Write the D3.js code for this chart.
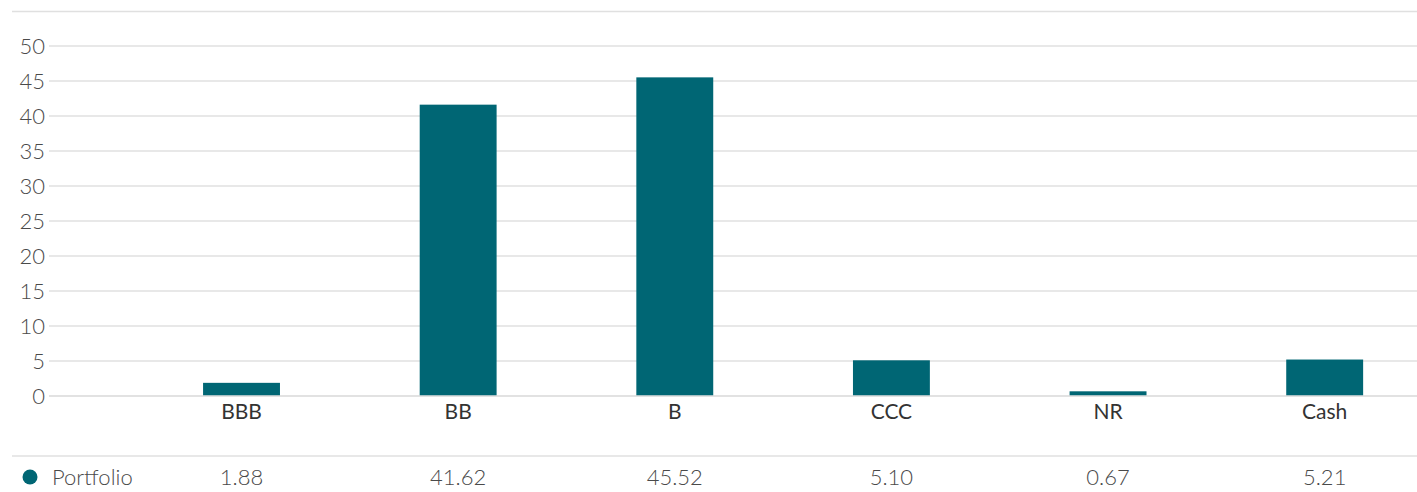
<!DOCTYPE html>
<html>
<head>
<meta charset="utf-8">
<script src="https://cdn.jsdelivr.net/npm/d3@7"></script>
<style>
	body { margin: 0; background: #fff; }
	svg text { font-family: "Source Sans Pro", Lato, "Open Sans", sans-serif; }
	.grid line { stroke: #e0e0e0; stroke-width: 1.5; }
	.ytick { font-size: 22px; font-weight: 300; fill: #4a4a4a; }
	.xcat { font-size: 21px; fill: #333; }
	.val { font-size: 22px; font-weight: 300; fill: #4a4a4a; }
	.bar { fill: #006674; }
</style>
</head>
<body>
<svg width="1417" height="492" id="chart"></svg>
<script>
	// data
	var categories = ["BBB", "BB", "B", "CCC", "NR", "Cash"];
	var portfolio = [1.88, 41.62, 45.52, 5.10, 0.67, 5.21];
	var valueLabels = ["1.88", "41.62", "45.52", "5.10", "0.67", "5.21"];
	var yTicks = [0, 5, 10, 15, 20, 25, 30, 35, 40, 45, 50];
	var seriesName = "Portfolio";

	var svg = d3.select("svg#chart"),
		width = +svg.attr("width");

	var x = d3.scaleBand()
		.domain(categories)
		.range([133.2, 1433])
		.paddingInner(0.645)
		.paddingOuter(0.3225);

	var y = d3.scaleLinear()
		.domain([0, 50])
		.range([396, 46]);

	// top rule
	svg.append("line")
		.attr("x1", 12).attr("x2", width)
		.attr("y1", 11.5).attr("y2", 11.5)
		.attr("stroke", "#e0e0e0").attr("stroke-width", 1.5);

	// gridlines
	svg.append("g")
		.attr("class", "grid")
		.selectAll("line")
		.data(yTicks)
		.enter().append("line")
		.attr("x1", 49).attr("x2", width)
		.attr("y1", function(d) { return y(d); })
		.attr("y2", function(d) { return y(d); });

	// y tick labels
	svg.append("g")
		.selectAll("text")
		.data(yTicks)
		.enter().append("text")
		.attr("class", "ytick")
		.attr("x", 45)
		.attr("y", function(d) { return y(d); })
		.attr("dy", "0.35em")
		.attr("text-anchor", "end")
		.text(function(d) { return d; });

	// bars
	svg.selectAll(".bar")
		.data(portfolio)
		.enter().append("rect")
		.attr("class", "bar")
		.attr("x", function(d, i) { return x(categories[i]); })
		.attr("width", x.bandwidth())
		.attr("y", function(d) { return y(d); })
		.attr("height", function(d) { return y(0) - y(d); });

	// zero line drawn over the bars
	svg.append("line")
		.attr("x1", 49).attr("x2", width)
		.attr("y1", y(0)).attr("y2", y(0))
		.attr("stroke", "#e0e0e0").attr("stroke-width", 1.5);

	// category labels
	svg.append("g")
		.selectAll("text")
		.data(categories)
		.enter().append("text")
		.attr("class", "xcat")
		.attr("x", function(d) { return x(d) + x.bandwidth() / 2; })
		.attr("y", 412)
		.attr("dy", "0.35em")
		.attr("text-anchor", "middle")
		.text(function(d) { return d; });

	// table rule
	svg.append("line")
		.attr("x1", 12).attr("x2", width)
		.attr("y1", 456).attr("y2", 456)
		.attr("stroke", "#e0e0e0").attr("stroke-width", 1.5);

	// table row
	svg.append("circle")
		.attr("cx", 30).attr("cy", 477).attr("r", 7.5)
		.attr("fill", "#006674");

	svg.append("text")
		.attr("class", "val")
		.attr("x", 52).attr("y", 477)
		.attr("dy", "0.35em")
		.text(seriesName);

	svg.append("g")
		.selectAll("text")
		.data(valueLabels)
		.enter().append("text")
		.attr("class", "val")
		.attr("x", function(d, i) { return x(categories[i]) + x.bandwidth() / 2; })
		.attr("y", 477)
		.attr("dy", "0.35em")
		.attr("text-anchor", "middle")
		.text(function(d) { return d; });
</script>
</body>
</html>
